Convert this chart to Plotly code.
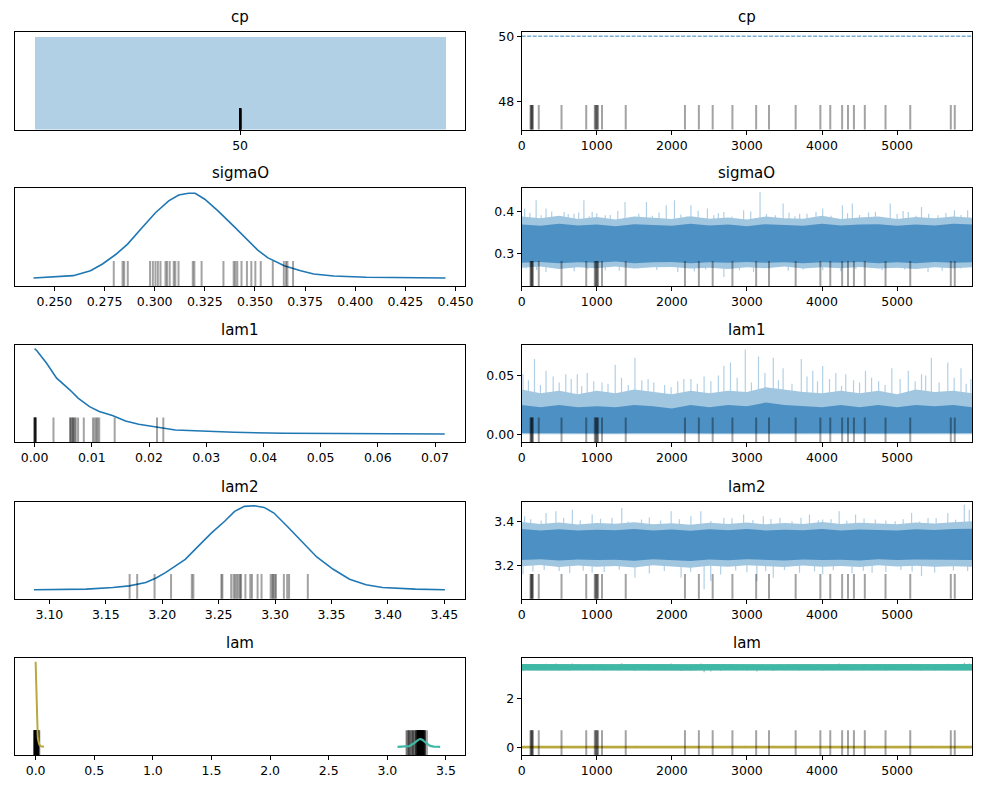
import plotly.graph_objects as go
from plotly.subplots import make_subplots

# ---- data ----
names = ["cp", "sigmaO", "lam1", "lam2", "lam"]

# divergent draws (rug marks on the trace panels)
div_draws = [118, 125, 136, 142, 149, 228, 531, 860, 974, 985, 996, 1005, 1018, 1070, 1386,
             2175, 2360, 2544, 2807, 3123, 3294, 3649, 3978, 4110, 4268, 4346, 4425,
             4570, 4846, 5175, 5715, 5768]

# cp: discrete, every draw is 50
cp_values = [50]
cp_heights = [1.0]
cp_trace_draws = [0, 5999]
cp_trace_vals = [50, 50]
cp_div_vals = [50] * 32

# KDEs (heights relative to the peak)
sigma_kde_x = [0.2396, 0.2594, 0.268, 0.274, 0.2807, 0.2865, 0.2939, 0.3004, 0.307, 0.312,
               0.3169, 0.3202, 0.325, 0.3317, 0.3399, 0.3465, 0.3514, 0.3563, 0.3646, 0.3728,
               0.3793, 0.3892, 0.4056, 0.445]
sigma_kde_y = [0.0, 0.027, 0.086, 0.165, 0.28, 0.40, 0.60, 0.77, 0.91, 0.98,
               1.0, 1.0, 0.93, 0.79, 0.60, 0.44, 0.33, 0.24, 0.145, 0.086,
               0.047, 0.024, 0.008, 0.0]
sigma_div_vals = [0.2796, 0.2840, 0.2848, 0.2866, 0.2977, 0.2991, 0.3004, 0.3016, 0.3029, 0.3054,
                  0.3062, 0.3075, 0.3095, 0.3103, 0.3119, 0.3190, 0.3198, 0.3234, 0.3343, 0.3394,
                  0.3402, 0.3412, 0.3433, 0.3460, 0.3482, 0.3502, 0.3529, 0.3589, 0.3644, 0.3655,
                  0.3662, 0.3690]

lam1_kde_x = [0.0, 0.0004, 0.0021, 0.00385, 0.00615, 0.0076, 0.0096, 0.0113, 0.0136, 0.0159,
              0.0182, 0.0211, 0.0246, 0.0292, 0.0349, 0.0435, 0.0579, 0.0717]
lam1_kde_y = [1.0, 0.976, 0.83, 0.655, 0.518, 0.42, 0.32, 0.263, 0.216, 0.153,
              0.114, 0.086, 0.047, 0.035, 0.020, 0.008, 0.004, 0.0]
lam1_div_vals = [0.0, 0.0, 0.0, 0.0001, 0.0001, 0.0002, 0.0002, 0.0033, 0.0062, 0.0063,
                 0.0065, 0.0067, 0.0068, 0.0070, 0.0072, 0.0076, 0.0086, 0.0102, 0.0105, 0.0108,
                 0.0110, 0.0113, 0.0140, 0.0214, 0.0225]

lam2_kde_x = [3.0863, 3.1329, 3.1562, 3.1708, 3.1854, 3.1941, 3.2029, 3.2116, 3.2204, 3.232,
              3.2437, 3.2553, 3.2641, 3.2728, 3.2816, 3.2903, 3.2990, 3.3107, 3.3223, 3.3369,
              3.3515, 3.366, 3.3806, 3.3952, 3.4243, 3.4505]
lam2_kde_y = [0.0, 0.008, 0.028, 0.047, 0.087, 0.138, 0.205, 0.283, 0.362, 0.52,
              0.677, 0.815, 0.933, 0.992, 1.0, 0.98, 0.913, 0.756, 0.598, 0.39,
              0.244, 0.126, 0.059, 0.028, 0.008, 0.0]
lam2_div_vals = [3.1711, 3.1778, 3.1932, 3.2078, 3.2262, 3.2276, 3.2524, 3.2533, 3.2611, 3.2632,
                 3.2646, 3.2661, 3.2676, 3.2690, 3.2699, 3.2737, 3.2780, 3.2795, 3.2845, 3.2880,
                 3.2961, 3.2976, 3.2984, 3.2996, 3.3008, 3.3078, 3.3107, 3.3124, 3.3290]
lam2_to_lam1_peak = 0.09  # height of the lam[1] bump vs the lam[0] spike

# trace bands (every 250 draws) and spikes
grid_draws = [0, 250, 500, 750, 1000, 1250, 1500, 1750, 2000, 2250, 2500, 2750, 3000,
              3250, 3500, 3750, 4000, 4250, 4500, 4750, 5000, 5250, 5500, 5750, 5999]

sigma_mid = 0.32
sigma_core_lo = [0.279, 0.281, 0.278, 0.280, 0.279, 0.282, 0.278, 0.280, 0.281, 0.278, 0.280, 0.279, 0.281,
                 0.279, 0.280, 0.278, 0.280, 0.279, 0.281, 0.278, 0.280, 0.278, 0.281, 0.279, 0.280]
sigma_core_hi = [0.370, 0.367, 0.372, 0.368, 0.370, 0.366, 0.371, 0.369, 0.367, 0.372, 0.368, 0.370, 0.366,
                 0.371, 0.369, 0.367, 0.372, 0.368, 0.370, 0.371, 0.367, 0.370, 0.368, 0.372, 0.370]
sigma_fuzz_lo = [0.267, 0.270, 0.264, 0.268, 0.266, 0.270, 0.265, 0.268, 0.269, 0.265, 0.267, 0.264, 0.268,
                 0.266, 0.270, 0.265, 0.268, 0.266, 0.269, 0.265, 0.267, 0.264, 0.268, 0.266, 0.268]
sigma_fuzz_hi = [0.389, 0.385, 0.391, 0.383, 0.388, 0.382, 0.389, 0.386, 0.383, 0.390, 0.384, 0.387, 0.382,
                 0.389, 0.385, 0.384, 0.391, 0.383, 0.387, 0.389, 0.383, 0.388, 0.385, 0.389, 0.386]
sigma_spike_draws = [39, 193, 325, 566, 697, 829, 939, 1114, 1377, 1662, 1925, 2035, 2254, 2474,
                     2693, 2956, 3175, 3482, 3702, 4009, 4272, 4404, 4711, 4908, 5149, 5325,
                     5544, 5763, 5939,
                     61, 325, 1114, 2079, 2693, 3088, 4009, 5412]
sigma_spike_vals = [0.408, 0.428, 0.408, 0.400, 0.396, 0.428, 0.400, 0.392, 0.424, 0.424, 0.416,
                    0.428, 0.416, 0.408, 0.400, 0.404, 0.4476, 0.420, 0.396, 0.408, 0.416, 0.420,
                    0.400, 0.420, 0.400, 0.412, 0.392, 0.404, 0.404,
                    0.265, 0.257, 0.261, 0.257, 0.245, 0.257, 0.261, 0.257]
sigma_minor_draws = [110, 260, 400, 480, 620, 760, 900, 1000, 1180, 1280,
                     1450, 1560, 1740, 1830, 2120, 2200, 2350, 2560, 2620, 2800,
                     3050, 3260, 3380, 3560, 3640, 3800, 3920, 4120, 4340, 4500,
                     4620, 4800, 5000, 5080, 5250, 5420, 5650, 5850,
                     200, 450, 700, 880, 1300, 1550, 1800, 2300, 2450, 2900,
                     3300, 3550, 3750, 4250, 4450, 4800, 5100, 5600, 5850]
sigma_minor_vals = [0.398, 0.392, 0.401, 0.389, 0.395, 0.399, 0.390, 0.397, 0.393, 0.402,
                    0.388, 0.396, 0.391, 0.399, 0.394, 0.390, 0.403, 0.392, 0.397, 0.389,
                    0.401, 0.395, 0.392, 0.398, 0.390, 0.396, 0.400, 0.391, 0.397, 0.393,
                    0.399, 0.388, 0.395, 0.402, 0.391, 0.396, 0.398, 0.393,
                    0.262, 0.266, 0.259, 0.264, 0.260, 0.265, 0.262, 0.258, 0.263, 0.261,
                    0.265, 0.260, 0.263, 0.259, 0.264, 0.261, 0.263, 0.260, 0.265]

lam1_mid = 0.01
lam1_core_lo = [0.0012, 0.0011, 0.0012, 0.0010, 0.0012, 0.0011, 0.0012, 0.0011, 0.0010, 0.0012, 0.0011,
                0.0012, 0.0011, 0.0012, 0.0010, 0.0012, 0.0011, 0.0012, 0.0011, 0.0010, 0.0012, 0.0011,
                0.0012, 0.0011, 0.0012]
lam1_core_hi = [0.025, 0.023, 0.025, 0.023, 0.024, 0.023, 0.025, 0.024, 0.022, 0.025, 0.023, 0.025, 0.024,
                0.027, 0.025, 0.024, 0.023, 0.025, 0.023, 0.025, 0.023, 0.025, 0.024, 0.025, 0.023]
lam1_fuzz_lo = [0.0003, 0.0002, 0.0003, 0.0002, 0.0003, 0.0002, 0.0003, 0.0002, 0.0003, 0.0002, 0.0003,
                0.0002, 0.0003, 0.0002, 0.0003, 0.0002, 0.0003, 0.0002, 0.0003, 0.0002, 0.0003, 0.0002,
                0.0003, 0.0002, 0.0003]
lam1_fuzz_hi = [0.038, 0.035, 0.037, 0.034, 0.037, 0.035, 0.038, 0.036, 0.034, 0.037, 0.035, 0.037, 0.036,
                0.040, 0.038, 0.036, 0.035, 0.037, 0.035, 0.037, 0.034, 0.038, 0.036, 0.037, 0.035]
lam1_spike_draws = [18, 171, 325, 588, 741, 873, 1070, 1246, 1509, 1684, 1904, 2079, 2254, 2430,
                    2693, 2781, 2978, 3154, 3351, 3482, 3724, 3877, 4009, 4184, 4316, 4579,
                    4754, 4930, 5149, 5325, 5456, 5675, 5851, 5982]
lam1_spike_vals = [0.051, 0.064, 0.054, 0.051, 0.051, 0.052, 0.044, 0.059, 0.065, 0.047, 0.042,
                   0.045, 0.047, 0.049, 0.058, 0.061, 0.072, 0.066, 0.065, 0.056, 0.064, 0.054,
                   0.058, 0.052, 0.051, 0.054, 0.045, 0.056, 0.054, 0.051, 0.065, 0.061, 0.056,
                   0.047]
lam1_minor_draws = [90, 250, 420, 500, 660, 800, 960, 1150, 1330, 1420,
                    1600, 1760, 1990, 2160, 2340, 2520, 2620, 2870, 3060, 3240,
                    3420, 3600, 3800, 3940, 4100, 4260, 4420, 4500, 4660, 4840,
                    5040, 5240, 5380, 5560, 5760, 5920]
lam1_minor_vals = [0.046, 0.042, 0.049, 0.044, 0.047, 0.041, 0.045, 0.043, 0.048, 0.042,
                   0.046, 0.044, 0.040, 0.047, 0.043, 0.045, 0.050, 0.048, 0.044, 0.052,
                   0.046, 0.043, 0.049, 0.045, 0.047, 0.041, 0.046, 0.044, 0.048, 0.042,
                   0.047, 0.045, 0.050, 0.044, 0.048, 0.043]

lam2_mid = 3.29
lam2_core_lo = [3.225, 3.228, 3.222, 3.227, 3.224, 3.226, 3.221, 3.228, 3.224, 3.220, 3.227, 3.223, 3.228,
                3.225, 3.222, 3.227, 3.224, 3.226, 3.222, 3.228, 3.224, 3.227, 3.223, 3.225, 3.224]
lam2_core_hi = [3.367, 3.361, 3.366, 3.360, 3.364, 3.362, 3.368, 3.360, 3.365, 3.359, 3.366, 3.362, 3.367,
                3.361, 3.364, 3.362, 3.368, 3.360, 3.365, 3.362, 3.361, 3.366, 3.363, 3.367, 3.369]
lam2_fuzz_lo = [3.196, 3.201, 3.192, 3.199, 3.194, 3.197, 3.190, 3.200, 3.195, 3.189, 3.198, 3.193, 3.200,
                3.196, 3.192, 3.199, 3.194, 3.197, 3.192, 3.200, 3.195, 3.198, 3.193, 3.196, 3.194]
lam2_fuzz_hi = [3.400, 3.391, 3.397, 3.388, 3.395, 3.392, 3.399, 3.389, 3.394, 3.387, 3.396, 3.391, 3.398,
                3.389, 3.395, 3.391, 3.400, 3.390, 3.396, 3.392, 3.389, 3.397, 3.393, 3.399, 3.403]
lam2_spike_draws = [39, 325, 456, 675, 939, 1202, 1333, 1596, 1991, 2254, 2386, 2693, 2956, 3219,
                    3439, 3833, 4009, 4228, 4447, 4711, 4974, 5193, 5412, 5675, 5895, 5961,
                    18, 500, 939, 1509, 2123, 2430, 2518, 3132, 3351, 4009, 4667, 5325, 5939]
lam2_spike_vals = [3.426, 3.441, 3.449, 3.456, 3.434, 3.418, 3.464, 3.411, 3.449, 3.426, 3.449,
                   3.418, 3.434, 3.426, 3.418, 3.434, 3.411, 3.449, 3.434, 3.411, 3.403, 3.441,
                   3.418, 3.441, 3.479, 3.456,
                   3.159, 3.174, 3.166, 3.143, 3.143, 3.090, 3.128, 3.128, 3.143, 3.159, 3.166,
                   3.151, 3.174]
lam2_minor_draws = [120, 260, 560, 780, 1050, 1420, 1700, 1850, 2100, 2520, 2800, 3080,
                    3320, 3600, 3720, 3950, 4120, 4330, 4560, 4850, 5080, 5300, 5520, 5780,
                    150, 300, 640, 820, 1100, 1300, 1700, 1900, 2250, 2650, 2850, 3000,
                    3250, 3500, 3700, 3900, 4150, 4400, 4550, 4850, 5050, 5200, 5500, 5750]
lam2_minor_vals = [3.412, 3.405, 3.418, 3.408, 3.415, 3.402, 3.420, 3.407, 3.413, 3.404, 3.417, 3.409,
                   3.414, 3.403, 3.419, 3.408, 3.412, 3.405, 3.416, 3.407, 3.413, 3.402, 3.418, 3.410,
                   3.172, 3.178, 3.165, 3.175, 3.169, 3.180, 3.162, 3.174, 3.170, 3.158, 3.176, 3.168,
                   3.173, 3.179, 3.166, 3.171, 3.177, 3.164, 3.175, 3.169, 3.178, 3.172, 3.167, 3.176]

# ---- figure ----
W, H = 990, 789
C0 = "#1f77b4"
TEAL = "#3fb8a6"
OLIVE = "#b8a83e"
FONT = "DejaVu Sans"

fig = make_subplots(rows=5, cols=2)


def ax(n):
    return "" if n == 1 else str(n)


def add_band(row, draws, flo, fhi, clo, chi, spk_d, spk_v, mid, spk_color, fuzz_color, core_color, lw=0):
    sx, sy = [], []
    for d, v in zip(spk_d, spk_v):
        sx += [d, d, None]
        sy += [mid, v, None]
    fig.add_trace(go.Scatter(x=sx, y=sy, mode="lines", hoverinfo="skip",
                             line=dict(color=spk_color, width=1.2)), row=row, col=2)
    for lo, hi, col in [(flo, fhi, fuzz_color), (clo, chi, core_color)]:
        fig.add_trace(go.Scatter(x=draws + draws[::-1], y=hi + lo[::-1], mode="lines",
                                 fill="toself", fillcolor=col, hoverinfo="skip",
                                 line=dict(color=col, width=lw)), row=row, col=2)


def add_rug(n, xs, top, width=2, layer="above"):
    for x in xs:
        fig.add_shape(type="line", xref="x" + ax(n), yref="y" + ax(n) + " domain",
                      x0=x, x1=x, y0=0, y1=top, layer=layer,
                      line=dict(color="rgba(0,0,0,0.36)", width=width))


SPK = "rgba(31,119,180,0.35)"
FUZZ = "rgb(161,198,223)"
CORE = "rgb(76,144,196)"

# row 1: cp
fig.add_trace(go.Bar(x=cp_values, y=cp_heights, width=[1.0], marker_color="rgba(31,119,180,0.35)",
                     marker_line_width=0), row=1, col=1)
fig.add_trace(go.Scatter(x=cp_trace_draws, y=cp_trace_vals, mode="lines",
                         line=dict(color="rgba(31,119,180,0.6)", width=1.5, dash="4px,1.5px")),
              row=1, col=2)
add_rug(1, cp_div_vals, 0.214)
add_rug(2, div_draws, 0.252)

# row 2: sigmaO
fig.add_trace(go.Scatter(x=sigma_kde_x, y=sigma_kde_y, mode="lines", line=dict(color=C0, width=1.6)),
              row=2, col=1)
add_band(2, grid_draws, sigma_fuzz_lo, sigma_fuzz_hi, sigma_core_lo, sigma_core_hi,
         sigma_spike_draws + sigma_minor_draws, sigma_spike_vals + sigma_minor_vals,
         sigma_mid, SPK, FUZZ, CORE)
add_rug(3, sigma_div_vals, 0.255)
add_rug(4, div_draws, 0.255)

# row 3: lam1
fig.add_trace(go.Scatter(x=lam1_kde_x, y=lam1_kde_y, mode="lines", line=dict(color=C0, width=1.6)),
              row=3, col=1)
add_band(3, grid_draws, lam1_fuzz_lo, lam1_fuzz_hi, lam1_core_lo, lam1_core_hi,
         lam1_spike_draws + lam1_minor_draws, lam1_spike_vals + lam1_minor_vals,
         lam1_mid, SPK, FUZZ, CORE)
add_rug(5, lam1_div_vals, 0.254)
add_rug(6, div_draws, 0.254)

# row 4: lam2
fig.add_trace(go.Scatter(x=lam2_kde_x, y=lam2_kde_y, mode="lines", line=dict(color=C0, width=1.6)),
              row=4, col=1)
add_band(4, grid_draws, lam2_fuzz_lo, lam2_fuzz_hi, lam2_core_lo, lam2_core_hi,
         lam2_spike_draws + lam2_minor_draws, lam2_spike_vals + lam2_minor_vals,
         lam2_mid, SPK, FUZZ, CORE)
add_rug(7, lam2_div_vals, 0.255)
add_rug(8, div_draws, 0.255)

# row 5: lam (both components)
fig.add_trace(go.Scatter(x=lam2_kde_x, y=[v * lam2_to_lam1_peak for v in lam2_kde_y], mode="lines",
                         line=dict(color=TEAL, width=2.2)), row=5, col=1)
fig.add_trace(go.Scatter(x=lam1_kde_x, y=lam1_kde_y, mode="lines",
                         line=dict(color=OLIVE, width=2)), row=5, col=1)
add_band(5, grid_draws, lam2_fuzz_lo, lam2_fuzz_hi, lam2_core_lo, lam2_core_hi,
         lam2_spike_draws + lam2_minor_draws, lam2_spike_vals + lam2_minor_vals,
         lam2_mid, "rgba(95,150,140,0.6)", "rgb(95,150,140)", "rgb(63,184,166)", lw=1)
add_band(5, grid_draws, lam2_core_lo, lam2_core_hi, lam2_core_lo, lam2_core_hi,
         [], [], lam2_mid, TEAL, TEAL, TEAL, lw=2.5)
add_band(5, grid_draws, lam1_fuzz_lo, lam1_fuzz_hi, lam1_core_lo, lam1_core_hi,
         lam1_spike_draws, lam1_spike_vals, lam1_mid, "rgba(184,168,62,0.8)", OLIVE, OLIVE, lw=1.5)
add_rug(9, lam1_div_vals + lam2_div_vals, 0.255, width=4, layer="below")
add_rug(10, div_draws, 0.255)

# ---- axes layout (pixel positions measured on the reference) ----
tops = [29, 186, 343, 501, 657]
bottoms = [127, 284, 441, 598, 755]
left_dom = [11 / W, 467 / W]
right_dom = [524 / W, 980 / W]

left_x = [
    dict(range=[49.452, 50.548], tickvals=[50], ticktext=["50"]),
    dict(range=[0.2303, 0.4549], tickvals=[0.25, 0.275, 0.3, 0.325, 0.35, 0.375, 0.4, 0.425, 0.45],
         tickformat=".3f"),
    dict(range=[-0.00345, 0.0753], tickvals=[0, 0.01, 0.02, 0.03, 0.04, 0.05, 0.06, 0.07],
         tickformat=".2f"),
    dict(range=[3.0694, 3.4686], tickvals=[3.10, 3.15, 3.20, 3.25, 3.30, 3.35, 3.40, 3.45],
         tickformat=".2f"),
    dict(range=[-0.177, 3.665], tickvals=[0, 0.5, 1, 1.5, 2, 2.5, 3, 3.5], tickformat=".1f"),
]
left_y = [[0, 1.05], [-0.094, 1.059], [-0.098, 1.047], [-0.106, 1.043], [-0.098, 1.051]]
right_y = [
    dict(range=[47.16, 50.13], tickvals=[48, 50], ticktext=["48", "50"]),
    dict(range=[0.2238, 0.4564], tickvals=[0.3, 0.4], ticktext=["0.3", "0.4"]),
    dict(range=[-0.0066, 0.076], tickvals=[0, 0.05], ticktext=["0.00", "0.05"]),
    dict(range=[3.046, 3.4915], tickvals=[3.2, 3.4], ticktext=["3.2", "3.4"]),
    dict(range=[-0.316, 3.70], tickvals=[0, 2], ticktext=["0", "2"]),
]

frame = dict(showline=True, linecolor="black", linewidth=1, mirror=True, showgrid=False,
             zeroline=False, ticks="outside", ticklen=4, tickwidth=1, tickcolor="black",
             tickfont=dict(family=FONT, size=12.5, color="black"))

layout = {}
annotations = []
for r in range(5):
    yd = [1 - bottoms[r] / H, 1 - tops[r] / H]
    nl, nr = 2 * r + 1, 2 * r + 2
    layout["xaxis" + ax(nl)] = dict(frame, domain=left_dom, **left_x[r])
    layout["yaxis" + ax(nl)] = dict(frame, domain=yd, range=left_y[r], showticklabels=False, ticks="")
    layout["xaxis" + ax(nr)] = dict(frame, domain=right_dom, range=[0, 5999],
                                    tickvals=[0, 1000, 2000, 3000, 4000, 5000])
    layout["yaxis" + ax(nr)] = dict(frame, domain=yd, **right_y[r])
    for dom in (left_dom, right_dom):
        annotations.append(dict(text=names[r], xref="paper", yref="paper", x=(dom[0] + dom[1]) / 2,
                                y=yd[1], xanchor="center", yanchor="bottom", yshift=4,
                                showarrow=False, font=dict(family=FONT, size=15, color="black")))

fig.update_layout(**layout)
fig.update_layout(width=W, height=H, margin=dict(l=0, r=0, t=0, b=0), showlegend=False,
                  plot_bgcolor="white", paper_bgcolor="white", annotations=annotations,
                  bargap=0)

# drop the default page margin so the figure sits at the window's top-left corner
fig.write_html("out.html", config={"displayModeBar": False},
               post_script="document.body.style.margin='0';document.body.style.overflow='hidden';")
